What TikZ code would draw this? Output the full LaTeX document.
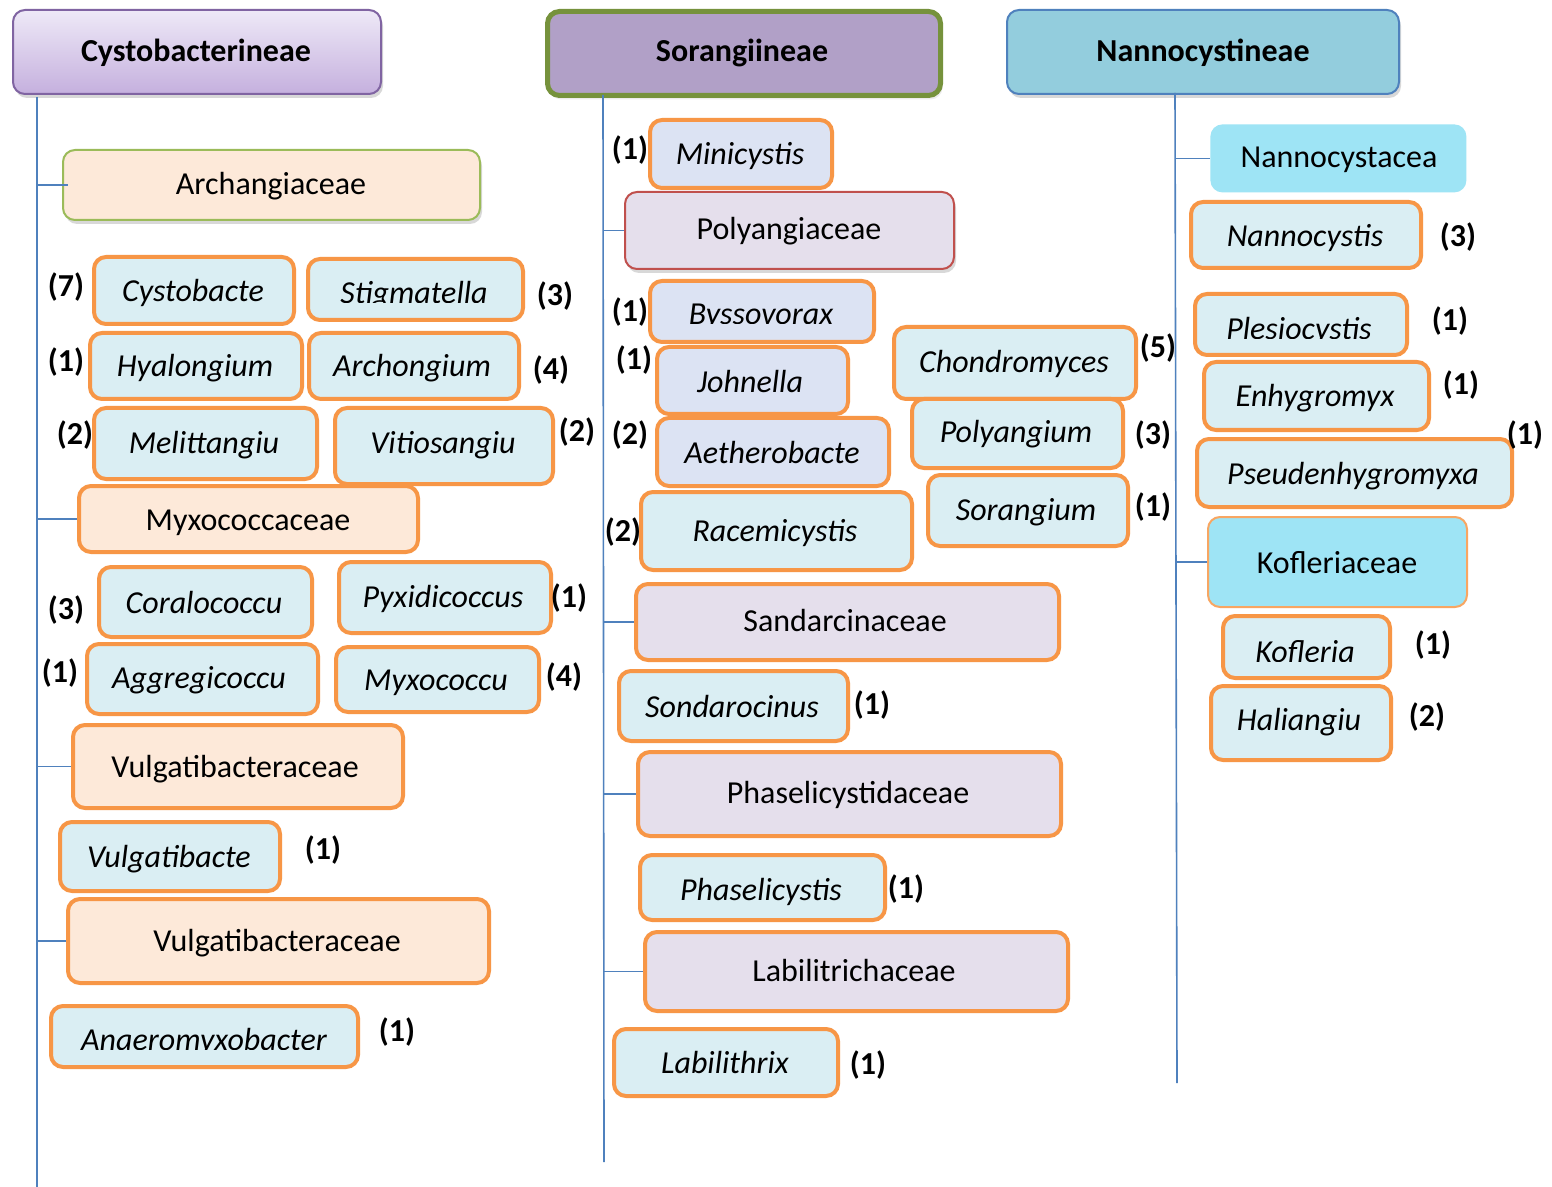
\documentclass[tikz,border=0pt]{standalone}
\usepackage{fontspec}
\setmainfont{Carlito}
\usetikzlibrary{shadows}
\definecolor{orng}{HTML}{F79646}
\definecolor{gfill}{HTML}{DAEEF3}
\definecolor{gfillb}{HTML}{DCE3F3}
\definecolor{peach}{HTML}{FDE9D9}
\definecolor{lav}{HTML}{E5DFEC}
\definecolor{cyanf}{HTML}{9EE4F5}
\definecolor{lineblue}{HTML}{4F81BD}
\definecolor{hpurple}{HTML}{8064A2}
\definecolor{hsor}{HTML}{B1A0C7}
\definecolor{hgreen}{HTML}{76923C}
\definecolor{hnan}{HTML}{93CDDD}
\definecolor{agreen}{HTML}{9BBB59}
\definecolor{pred}{HTML}{C0504D}
\definecolor{htop}{HTML}{EEE9F7}
\definecolor{hbot}{HTML}{C5B0DE}
\tikzset{
  box/.style={rectangle, rounded corners=6pt, inner sep=0pt, anchor=north west},
  genus/.style={box, fill=gfill, draw=orng, line width=2pt},
  genusb/.style={genus, fill=gfillb},
  fam/.style={box, fill=peach, draw=orng, line width=2pt},
  famv/.style={box, fill=lav, draw=orng, line width=2pt},
  shd/.style={drop shadow={opacity=0.3, shadow xshift=1pt, shadow yshift=-2pt}},
  gtxt/.style={font=\fontsize{16}{19}\selectfont\itshape, anchor=base, inner sep=0pt},
  ftxt/.style={font=\fontsize{16}{19}\selectfont, anchor=base, inner sep=0pt},
  htxt/.style={font=\fontsize{16}{19}\selectfont\bfseries, anchor=base, inner sep=0pt},
  cnt/.style={font=\fontsize{16}{19}\selectfont\bfseries, inner sep=0pt},
  conn/.style={draw=lineblue, line width=0.8pt},
}
\newcommand\bx[6]{\node[#2, minimum width={(#5-#3)*0.5pt}, minimum height={(#6-#4)*0.5pt}] (#1) at (#3,#4) {};}
\newcommand\clt[5]{\begin{scope}\clip (#2-200,#3-60) rectangle (#2+200,#4);
  \node[gtxt] (#1) at (#2,#3) {#5};\end{scope}}
\begin{document}
\begin{tikzpicture}[x=0.5pt,y=-0.5pt]
\useasboundingbox[fill=white] (0,0) rectangle (1552,1187);

% ---------- headers
\bx{h1}{box, top color=htop, bottom color=hbot, draw=hpurple, line width=1pt, shd}{12}{9}{380}{93}
\bx{h2}{box, fill=hsor, draw=hgreen, line width=2.5pt, drop shadow={opacity=0.15, shadow xshift=1pt, shadow yshift=-2pt}}{545}{9}{938}{93}
\bx{h3}{box, fill=hnan, draw=lineblue, line width=1pt, shd}{1006}{9}{1398}{93}
\node[htxt] (h1t) at (196,62) {Cystobacterineae};
\node[htxt] (h2t) at (742,62) {Sorangiineae};
\node[htxt] (h3t) at (1203,62) {Nannocystineae};

% ---------- left column
\bx{arch}{box, fill=peach, draw=agreen, line width=1pt, shd}{62}{149}{479}{219}
\node[ftxt] (archt) at (271,195) {Archangiaceae};
\bx{cysto}{genus}{92}{255}{292}{322}
\node[gtxt] (cystot) at (193,302) {Cystobacte};
\bx{stig}{genus}{306}{257}{521}{318}
\clt{stigt}{414}{304}{303}{Stigmatella}
\bx{hyal}{genus}{88}{331}{300}{397}
\node[gtxt] (hyalt) at (195,377) {Hyalongium};
\bx{archo}{genus}{307}{331}{517}{397}
\node[gtxt] (archot) at (412,377) {Archongium};
\bx{meli}{genus}{92}{406}{315}{477}
\node[gtxt] (melit) at (204,453) {Melittangiu};
\bx{viti}{genus}{333}{406}{551}{482}
\node[gtxt] (vitit) at (443,453) {Vitiosangiu};
\bx{myxf}{fam}{77}{484}{416}{550}
\node[ftxt] (myxft) at (248,530) {Myxococcaceae};
\bx{cora}{genus}{97}{565}{310}{635}
\node[gtxt] (corat) at (204,613) {Coralococcu};
\bx{pyxi}{genus}{337}{560}{549}{631}
\node[gtxt] (pyxit) at (443,607) {Pyxidicoccus};
\bx{aggr}{genus}{85}{642}{316}{712}
\node[gtxt] (aggrt) at (199,688) {Aggregicoccu};
\bx{myxo}{genus}{334}{645}{537}{710}
\node[gtxt] (myxot) at (436,690) {Myxococcu};
\bx{vulf1}{fam}{71}{723}{401}{806}
\node[ftxt] (vulf1t) at (235,777) {Vulgatibacteraceae};
\bx{vulg}{genus}{58}{820}{278}{889}
\node[gtxt] (vulgt) at (169,867) {Vulgatibacte};
\bx{vulf2}{fam}{66}{897}{487}{981}
\node[ftxt] (vulf2t) at (277,951) {Vulgatibacteraceae};
\bx{anae}{genus}{49}{1004}{356}{1065}
\clt{anaet}{204}{1050}{1049}{Anaeromyxobacter}

\node[cnt] (c1) at (66,287) {(7)};
\node[cnt] (c2) at (555,296) {(3)};
\node[cnt] (c3) at (66,362) {(1)};
\node[cnt] (c4) at (551,370) {(4)};
\node[cnt] (c5) at (75,435) {(2)};
\node[cnt] (c6) at (577,432) {(2)};
\node[cnt] (c7) at (66,610) {(3)};
\node[cnt] (c8) at (569,598) {(1)};
\node[cnt] (c9) at (60,673) {(1)};
\node[cnt] (c10) at (564,677) {(4)};
\node[cnt] (c11) at (323,850) {(1)};
\node[cnt] (c12) at (397,1032) {(1)};

% ---------- middle column
\bx{mini}{genusb}{648}{118}{830}{186}
\node[gtxt] (minit) at (740,165) {Minicystis};
\bx{poly}{box, fill=lav, draw=pred, line width=1pt, shd}{624}{191}{953}{268}
\node[ftxt] (polyt) at (789,240) {Polyangiaceae};
\bx{byss}{genusb}{648}{279}{872}{340}
\clt{bysst}{761}{325}{324}{Byssovorax}
\bx{john}{genusb}{655}{345}{846}{412}
\node[gtxt] (johnt) at (750,393) {Johnella};
\bx{aeth}{genusb}{655}{416}{887}{484}
\node[gtxt] (aetht) at (772,463) {Aetherobacte};
\bx{race}{genus}{639}{490}{910}{568}
\node[gtxt] (racet) at (775,541) {Racemicystis};
\bx{chon}{genus}{892}{325}{1134}{397}
\node[gtxt] (chont) at (1014,372) {Chondromyces};
\bx{polg}{genus}{910}{397}{1121}{466}
\node[gtxt] (polgt) at (1016,443) {Polyangium};
\bx{sora}{genus}{926}{473}{1126}{544}
\node[gtxt] (sorat) at (1026,520) {Sorangium};
\bx{sand}{famv}{634}{582}{1057}{658}
\node[ftxt] (sandt) at (845,631) {Sandarcinaceae};
\bx{sond}{genus}{617}{669}{846}{739}
\node[gtxt] (sondt) at (732,717) {Sondarocinus};
\bx{phaf}{famv}{636}{750}{1059}{834}
\node[ftxt] (phaft) at (848,803) {Phaselicystidaceae};
\bx{phas}{genus}{638}{853}{883}{918}
\node[gtxt] (phast) at (761,900) {Phaselicystis};
\bx{labf}{famv}{643}{930}{1066}{1009}
\node[ftxt] (labft) at (854,981) {Labilitrichaceae};
\bx{labi}{genus}{612}{1027}{836}{1094}
\node[gtxt] (labit) at (725,1073) {Labilithrix};

\node[cnt] (m1) at (630,150) {(1)};
\node[cnt] (m2) at (630,312) {(1)};
\node[cnt] (m3) at (634,360) {(1)};
\node[cnt] (m4) at (630,435) {(2)};
\node[cnt] (m5) at (623,532) {(2)};
\node[cnt] (m6) at (1158,348) {(5)};
\node[cnt] (m7) at (1153,435) {(3)};
\node[cnt] (m8) at (1153,507) {(1)};
\node[cnt] (m9) at (872,705) {(1)};
\node[cnt] (m10) at (906,889) {(1)};
\node[cnt] (m11) at (868,1065) {(1)};

% ---------- right column
\bx{nanf}{box, fill=cyanf}{1210}{124}{1466}{192}
\node[ftxt] (nanft) at (1339,168) {Nannocystacea};
\bx{nann}{genus}{1189}{200}{1419}{266}
\node[gtxt] (nannt) at (1305,247) {Nannocystis};
\bx{ples}{genus}{1193}{292}{1405}{353}
\clt{plest}{1299}{340}{339}{Plesiocystis}
\bx{enhy}{genus}{1202}{360}{1427}{428}
\node[gtxt] (enhyt) at (1315,407) {Enhygromyx};
\bx{pseu}{genus}{1195}{437}{1510}{505}
\node[gtxt] (pseut) at (1353,484) {Pseudenhygromyxa};
\bx{kofl}{box, fill=cyanf, draw=orng!85, line width=1pt}{1207}{516}{1466}{606}
\node[ftxt] (koflt) at (1337,573) {Kofleriaceae};
\bx{kofg}{genus}{1221}{614}{1388}{676}
\clt{kofgt}{1305}{662}{661}{Kofleria}
\bx{hali}{genus}{1209}{684}{1389}{758}
\node[gtxt] (halit) at (1299,730) {Haliangiu};

\node[cnt] (r1) at (1458,237) {(3)};
\node[cnt] (r2) at (1450,321) {(1)};
\node[cnt] (r3) at (1461,385) {(1)};
\node[cnt] (r4) at (1525,435) {(1)};
\node[cnt] (r5) at (1433,645) {(1)};
\node[cnt] (r6) at (1427,717) {(2)};

% ---------- connectors
\coordinate (l1t) at (37,97);
\coordinate (l1b) at (37,1187);
\coordinate (m1t) at (603,95);
\coordinate (m1b) at (604,1162);
\coordinate (r1t) at (1175,93);
\coordinate (r1b) at (1177,1083);
\draw[conn] (l1t) -- (l1b);
\draw[conn] (m1t) -- (m1b);
\draw[conn] (r1t) -- (r1b);
\draw[conn] (l1t |- arch.west) -- ([xshift=3pt]arch.west);
\draw[conn] (l1t |- myxf.west) -- (myxf.west);
\draw[conn] (l1t |- vulf1.west) -- (vulf1.west);
\draw[conn] (l1t |- vulf2.west) -- (vulf2.west);
\draw[conn] (m1t |- poly.west) -- (poly.west);
\draw[conn] (m1t |- sand.west) -- (sand.west);
\draw[conn] (m1t |- phaf.west) -- (phaf.west);
\draw[conn] (m1t |- labf.west) -- (labf.west);
\draw[conn] (r1t |- nanf.west) -- (nanf.west);
\draw[conn] (r1t |- kofl.west) -- (kofl.west);
\end{tikzpicture}
\end{document}
